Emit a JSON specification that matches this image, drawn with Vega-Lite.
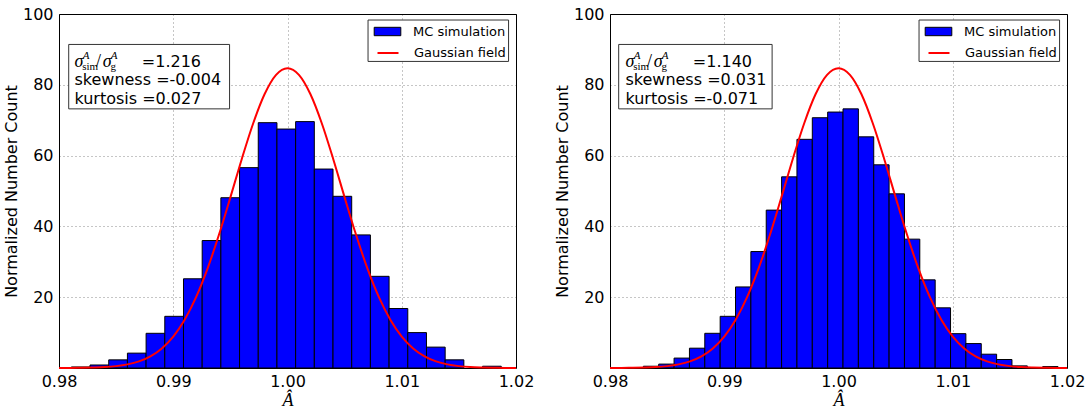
{
  "$schema": "https://vega.github.io/schema/vega-lite/v6.json",
  "padding": {"left": 2, "top": 5, "right": 0, "bottom": 0},
  "background": "white",
  "spacing": 94,
  "bounds": "flush",
  "resolve": {"scale": {"color": "independent", "fill": "independent", "stroke": "independent"}, "legend": {"color": "independent", "fill": "independent", "stroke": "independent"}},
  "config": {
    "font": "DejaVu Sans",
    "view": {"stroke": "black", "strokeWidth": 1},
    "axis": {
      "labelFont": "DejaVu Sans", "labelFontSize": 16, "labelColor": "black",
      "titleFont": "DejaVu Sans", "titleFontSize": 16, "titleFontWeight": "normal", "titleColor": "black",
      "ticks": false, "domain": false, "grid": true,
      "gridColor": "#000000", "gridOpacity": 0.45, "gridDash": [1, 3], "gridWidth": 1
    },
    "legend": {
      "layout": {"top-right": {"direction": "vertical", "margin": 0}}
    }
  },
  "datasets": {
    "bars": [
      {"panel": "L", "x": 0.98108, "xe": 0.982716, "y": 0.3, "series": "MC simulation"},
      {"panel": "L", "x": 0.982716, "xe": 0.984352, "y": 0.85, "series": "MC simulation"},
      {"panel": "L", "x": 0.984352, "xe": 0.985988, "y": 2.3, "series": "MC simulation"},
      {"panel": "L", "x": 0.985988, "xe": 0.987624, "y": 4.2, "series": "MC simulation"},
      {"panel": "L", "x": 0.987624, "xe": 0.98926, "y": 9.8, "series": "MC simulation"},
      {"panel": "L", "x": 0.98926, "xe": 0.990896, "y": 14.6, "series": "MC simulation"},
      {"panel": "L", "x": 0.990896, "xe": 0.992532, "y": 25.2, "series": "MC simulation"},
      {"panel": "L", "x": 0.992532, "xe": 0.994168, "y": 36.0, "series": "MC simulation"},
      {"panel": "L", "x": 0.994168, "xe": 0.995804, "y": 48.1, "series": "MC simulation"},
      {"panel": "L", "x": 0.995804, "xe": 0.99744, "y": 56.6, "series": "MC simulation"},
      {"panel": "L", "x": 0.99744, "xe": 0.999076, "y": 69.3, "series": "MC simulation"},
      {"panel": "L", "x": 0.999076, "xe": 1.000712, "y": 67.5, "series": "MC simulation"},
      {"panel": "L", "x": 1.000712, "xe": 1.002348, "y": 69.6, "series": "MC simulation"},
      {"panel": "L", "x": 1.002348, "xe": 1.003984, "y": 56.2, "series": "MC simulation"},
      {"panel": "L", "x": 1.003984, "xe": 1.00562, "y": 48.5, "series": "MC simulation"},
      {"panel": "L", "x": 1.00562, "xe": 1.007256, "y": 37.6, "series": "MC simulation"},
      {"panel": "L", "x": 1.007256, "xe": 1.008892, "y": 25.9, "series": "MC simulation"},
      {"panel": "L", "x": 1.008892, "xe": 1.010528, "y": 16.8, "series": "MC simulation"},
      {"panel": "L", "x": 1.010528, "xe": 1.012164, "y": 10.0, "series": "MC simulation"},
      {"panel": "L", "x": 1.012164, "xe": 1.0138, "y": 5.9, "series": "MC simulation"},
      {"panel": "L", "x": 1.0138, "xe": 1.015436, "y": 2.3, "series": "MC simulation"},
      {"panel": "L", "x": 1.017072, "xe": 1.018708, "y": 0.5, "series": "MC simulation"},
      {"panel": "R", "x": 0.98292, "xe": 0.984264, "y": 0.5, "series": "MC simulation"},
      {"panel": "R", "x": 0.984264, "xe": 0.985608, "y": 1.1, "series": "MC simulation"},
      {"panel": "R", "x": 0.985608, "xe": 0.986953, "y": 2.8, "series": "MC simulation"},
      {"panel": "R", "x": 0.986953, "xe": 0.988297, "y": 5.6, "series": "MC simulation"},
      {"panel": "R", "x": 0.988297, "xe": 0.989642, "y": 9.8, "series": "MC simulation"},
      {"panel": "R", "x": 0.989642, "xe": 0.990986, "y": 14.6, "series": "MC simulation"},
      {"panel": "R", "x": 0.990986, "xe": 0.99233, "y": 22.9, "series": "MC simulation"},
      {"panel": "R", "x": 0.99233, "xe": 0.993674, "y": 32.9, "series": "MC simulation"},
      {"panel": "R", "x": 0.993674, "xe": 0.995019, "y": 44.6, "series": "MC simulation"},
      {"panel": "R", "x": 0.995019, "xe": 0.996363, "y": 54.0, "series": "MC simulation"},
      {"panel": "R", "x": 0.996363, "xe": 0.997707, "y": 64.6, "series": "MC simulation"},
      {"panel": "R", "x": 0.997707, "xe": 0.999052, "y": 70.7, "series": "MC simulation"},
      {"panel": "R", "x": 0.999052, "xe": 1.000396, "y": 72.3, "series": "MC simulation"},
      {"panel": "R", "x": 1.000396, "xe": 1.00174, "y": 73.2, "series": "MC simulation"},
      {"panel": "R", "x": 1.00174, "xe": 1.003085, "y": 65.3, "series": "MC simulation"},
      {"panel": "R", "x": 1.003085, "xe": 1.004429, "y": 57.4, "series": "MC simulation"},
      {"panel": "R", "x": 1.004429, "xe": 1.005773, "y": 49.2, "series": "MC simulation"},
      {"panel": "R", "x": 1.005773, "xe": 1.007117, "y": 36.4, "series": "MC simulation"},
      {"panel": "R", "x": 1.007117, "xe": 1.008462, "y": 24.9, "series": "MC simulation"},
      {"panel": "R", "x": 1.008462, "xe": 1.009806, "y": 17.0, "series": "MC simulation"},
      {"panel": "R", "x": 1.009806, "xe": 1.01115, "y": 9.7, "series": "MC simulation"},
      {"panel": "R", "x": 1.01115, "xe": 1.012495, "y": 6.9, "series": "MC simulation"},
      {"panel": "R", "x": 1.012495, "xe": 1.013839, "y": 3.9, "series": "MC simulation"},
      {"panel": "R", "x": 1.013839, "xe": 1.015183, "y": 2.4, "series": "MC simulation"},
      {"panel": "R", "x": 1.015183, "xe": 1.016528, "y": 0.6, "series": "MC simulation"},
      {"panel": "R", "x": 1.017872, "xe": 1.019216, "y": 0.4, "series": "MC simulation"}
    ],
    "gauss": [
      {"x": 0.980, "y": 0.01, "series": "Gaussian field"},
      {"x": 0.981, "y": 0.02, "series": "Gaussian field"},
      {"x": 0.982, "y": 0.06, "series": "Gaussian field"},
      {"x": 0.983, "y": 0.13, "series": "Gaussian field"},
      {"x": 0.984, "y": 0.26, "series": "Gaussian field"},
      {"x": 0.985, "y": 0.53, "series": "Gaussian field"},
      {"x": 0.986, "y": 1.02, "series": "Gaussian field"},
      {"x": 0.987, "y": 1.88, "series": "Gaussian field"},
      {"x": 0.988, "y": 3.30, "series": "Gaussian field"},
      {"x": 0.989, "y": 5.54, "series": "Gaussian field"},
      {"x": 0.990, "y": 8.89, "series": "Gaussian field"},
      {"x": 0.991, "y": 13.65, "series": "Gaussian field"},
      {"x": 0.992, "y": 20.02, "series": "Gaussian field"},
      {"x": 0.993, "y": 28.07, "series": "Gaussian field"},
      {"x": 0.994, "y": 37.63, "series": "Gaussian field"},
      {"x": 0.995, "y": 48.21, "series": "Gaussian field"},
      {"x": 0.996, "y": 59.06, "series": "Gaussian field"},
      {"x": 0.997, "y": 69.15, "series": "Gaussian field"},
      {"x": 0.998, "y": 77.40, "series": "Gaussian field"},
      {"x": 0.999, "y": 82.81, "series": "Gaussian field"},
      {"x": 1.000, "y": 84.70, "series": "Gaussian field"},
      {"x": 1.001, "y": 82.81, "series": "Gaussian field"},
      {"x": 1.002, "y": 77.40, "series": "Gaussian field"},
      {"x": 1.003, "y": 69.15, "series": "Gaussian field"},
      {"x": 1.004, "y": 59.06, "series": "Gaussian field"},
      {"x": 1.005, "y": 48.21, "series": "Gaussian field"},
      {"x": 1.006, "y": 37.63, "series": "Gaussian field"},
      {"x": 1.007, "y": 28.07, "series": "Gaussian field"},
      {"x": 1.008, "y": 20.02, "series": "Gaussian field"},
      {"x": 1.009, "y": 13.65, "series": "Gaussian field"},
      {"x": 1.010, "y": 8.89, "series": "Gaussian field"},
      {"x": 1.011, "y": 5.54, "series": "Gaussian field"},
      {"x": 1.012, "y": 3.30, "series": "Gaussian field"},
      {"x": 1.013, "y": 1.88, "series": "Gaussian field"},
      {"x": 1.014, "y": 1.02, "series": "Gaussian field"},
      {"x": 1.015, "y": 0.53, "series": "Gaussian field"},
      {"x": 1.016, "y": 0.26, "series": "Gaussian field"},
      {"x": 1.017, "y": 0.13, "series": "Gaussian field"},
      {"x": 1.018, "y": 0.06, "series": "Gaussian field"},
      {"x": 1.019, "y": 0.02, "series": "Gaussian field"},
      {"x": 1.020, "y": 0.01, "series": "Gaussian field"}
    ],
    "boxes": [
      {"panel": "L", "x": 0.98085, "xe": 0.99493, "y": 73.2, "ye": 91.4},
      {"panel": "R", "x": 0.98076, "xe": 0.99419, "y": 73.2, "ye": 91.4},
      {"panel": "L", "x": 1.00705, "xe": 1.01935, "y": 86.6, "ye": 98.3},
      {"panel": "R", "x": 1.00705, "xe": 1.01935, "y": 86.6, "ye": 98.3}
    ],
    "notes": [
      {"panel": "L", "kind": "sig", "text": "σ", "x": 0.98135, "y": 85.1},
      {"panel": "L", "kind": "sup", "text": "A", "x": 0.98207, "y": 85.1},
      {"panel": "L", "kind": "sub", "text": "sim", "x": 0.98203, "y": 85.1},
      {"panel": "L", "kind": "slash", "text": "/", "x": 0.98324, "y": 85.1},
      {"panel": "L", "kind": "sig", "text": "σ", "x": 0.98382, "y": 85.1},
      {"panel": "L", "kind": "sup", "text": "A", "x": 0.98454, "y": 85.1},
      {"panel": "L", "kind": "sub", "text": "g", "x": 0.98450, "y": 85.1},
      {"panel": "L", "kind": "plain", "text": "=1.216", "x": 0.98725, "y": 85.1},
      {"panel": "L", "kind": "plain", "text": "skewness =-0.004", "x": 0.98135, "y": 80.0},
      {"panel": "L", "kind": "plain", "text": "kurtosis =0.027", "x": 0.98135, "y": 74.7},
      {"panel": "R", "kind": "sig", "text": "σ", "x": 0.98135, "y": 85.1},
      {"panel": "R", "kind": "sup", "text": "A", "x": 0.98207, "y": 85.1},
      {"panel": "R", "kind": "sub", "text": "sim", "x": 0.98203, "y": 85.1},
      {"panel": "R", "kind": "slash", "text": "/", "x": 0.98324, "y": 85.1},
      {"panel": "R", "kind": "sig", "text": "σ", "x": 0.98382, "y": 85.1},
      {"panel": "R", "kind": "sup", "text": "A", "x": 0.98454, "y": 85.1},
      {"panel": "R", "kind": "sub", "text": "g", "x": 0.98450, "y": 85.1},
      {"panel": "R", "kind": "plain", "text": "=1.140", "x": 0.98725, "y": 85.1},
      {"panel": "R", "kind": "plain", "text": "skewness =0.031", "x": 0.98135, "y": 80.0},
      {"panel": "R", "kind": "plain", "text": "kurtosis =-0.071", "x": 0.98135, "y": 74.7}
    ]
  },
  "hconcat": [
    {
      "width": 457, "height": 354,
      "encoding": {
        "x": {"field": "x", "type": "quantitative", "scale": {"domain": [0.98, 1.02], "nice": false, "zero": false, "padding": 0},
              "axis": {"values": [0.98, 0.99, 1.0, 1.01, 1.02], "format": ".2f", "labelFlush": false, "labelPadding": 5,
                       "title": "Â", "titleFont": "Liberation Serif", "titleFontStyle": "italic", "titleFontSize": 18, "titlePadding": 2}},
        "y": {"field": "y", "type": "quantitative", "scale": {"domain": [0, 100], "nice": false, "zero": true, "padding": 0},
              "axis": {"values": [20, 40, 60, 80, 100], "labelPadding": 6, "title": "Normalized Number Count", "titlePadding": 3}}
      },
      "layer": [
        {
          "data": {"name": "bars"}, "transform": [{"filter": "datum.panel === 'L'"}],
          "mark": {"type": "bar", "stroke": "black", "strokeWidth": 1, "fillOpacity": 1, "orient": "vertical"},
          "encoding": {
            "x2": {"field": "xe"},
            "y2": {"datum": 0},
            "fill": {"field": "series", "type": "nominal",
              "scale": {"domain": ["MC simulation"], "range": ["#0000ff"]},
              "legend": {"title": null, "orient": "top-right", "offset": 7, "padding": 3, "rowPadding": 0,
                "labelFont": "DejaVu Sans", "labelFontSize": 13, "labelColor": "black",
                "symbolSize": 196, "symbolOffset": 0, "labelOffset": 18,
                "symbolType": "M-1.9,-0.6H1.9V0.6H-1.9Z", "symbolStrokeColor": "black", "symbolStrokeWidth": 1, "symbolOpacity": 1}}
          }
        },
        {
          "data": {"name": "gauss"},
          "mark": {"type": "line", "strokeWidth": 2, "interpolate": "monotone"},
          "encoding": {"color": {"field": "series", "type": "nominal",
            "scale": {"domain": ["Gaussian field"], "range": ["#ff0000"]},
            "legend": {"title": null, "orient": "top-right", "offset": 7, "padding": 3, "rowPadding": 0,
              "labelFont": "DejaVu Sans", "labelFontSize": 13, "labelColor": "black",
              "symbolSize": 196, "symbolOffset": 0, "labelOffset": 18,
              "symbolType": "M-1.5,0H1.5", "symbolStrokeWidth": 2, "symbolOpacity": 1}}}
        },
        {
          "data": {"name": "boxes"}, "transform": [{"filter": "datum.panel === 'L'"}],
          "mark": {"type": "rect", "fill": "white", "stroke": "#333333", "strokeWidth": 1},
          "encoding": {"x2": {"field": "xe"}, "y2": {"field": "ye"}}
        },
        {
          "data": {"name": "notes"}, "transform": [{"filter": "datum.panel === 'L' && datum.kind === 'plain'"}],
          "mark": {"type": "text", "align": "left", "baseline": "alphabetic", "font": "DejaVu Sans", "fontSize": 16, "color": "black"},
          "encoding": {"text": {"field": "text"}}
        },
        {
          "data": {"name": "notes"}, "transform": [{"filter": "datum.panel === 'L' && datum.kind === 'sig'"}],
          "mark": {"type": "text", "align": "left", "baseline": "alphabetic", "font": "Liberation Serif", "fontStyle": "italic", "fontSize": 18, "color": "black"},
          "encoding": {"text": {"field": "text"}}
        },
        {
          "data": {"name": "notes"}, "transform": [{"filter": "datum.panel === 'L' && datum.kind === 'slash'"}],
          "mark": {"type": "text", "align": "left", "baseline": "alphabetic", "font": "Liberation Serif", "fontSize": 18, "color": "black"},
          "encoding": {"text": {"field": "text"}}
        },
        {
          "data": {"name": "notes"}, "transform": [{"filter": "datum.panel === 'L' && datum.kind === 'sup'"}],
          "mark": {"type": "text", "align": "left", "baseline": "alphabetic", "font": "Liberation Serif", "fontStyle": "italic", "fontSize": 11, "dy": -8, "color": "black"},
          "encoding": {"text": {"field": "text"}}
        },
        {
          "data": {"name": "notes"}, "transform": [{"filter": "datum.panel === 'L' && datum.kind === 'sub'"}],
          "mark": {"type": "text", "align": "left", "baseline": "alphabetic", "font": "Liberation Serif", "fontSize": 11, "dy": 3, "color": "black"},
          "encoding": {"text": {"field": "text"}}
        }
      ]
    },
    {
      "width": 457, "height": 354,
      "encoding": {
        "x": {"field": "x", "type": "quantitative", "scale": {"domain": [0.98, 1.02], "nice": false, "zero": false, "padding": 0},
              "axis": {"values": [0.98, 0.99, 1.0, 1.01, 1.02], "format": ".2f", "labelFlush": false, "labelPadding": 5,
                       "title": "Â", "titleFont": "Liberation Serif", "titleFontStyle": "italic", "titleFontSize": 18, "titlePadding": 2}},
        "y": {"field": "y", "type": "quantitative", "scale": {"domain": [0, 100], "nice": false, "zero": true, "padding": 0},
              "axis": {"values": [20, 40, 60, 80, 100], "labelPadding": 6, "title": "Normalized Number Count", "titlePadding": 3}}
      },
      "layer": [
        {
          "data": {"name": "bars"}, "transform": [{"filter": "datum.panel === 'R'"}],
          "mark": {"type": "bar", "stroke": "black", "strokeWidth": 1, "fillOpacity": 1, "orient": "vertical"},
          "encoding": {
            "x2": {"field": "xe"},
            "y2": {"datum": 0},
            "fill": {"field": "series", "type": "nominal",
              "scale": {"domain": ["MC simulation"], "range": ["#0000ff"]},
              "legend": {"title": null, "orient": "top-right", "offset": 7, "padding": 3, "rowPadding": 0,
                "labelFont": "DejaVu Sans", "labelFontSize": 13, "labelColor": "black",
                "symbolSize": 196, "symbolOffset": 0, "labelOffset": 18,
                "symbolType": "M-1.9,-0.6H1.9V0.6H-1.9Z", "symbolStrokeColor": "black", "symbolStrokeWidth": 1, "symbolOpacity": 1}}
          }
        },
        {
          "data": {"name": "gauss"},
          "mark": {"type": "line", "strokeWidth": 2, "interpolate": "monotone"},
          "encoding": {"color": {"field": "series", "type": "nominal",
            "scale": {"domain": ["Gaussian field"], "range": ["#ff0000"]},
            "legend": {"title": null, "orient": "top-right", "offset": 7, "padding": 3, "rowPadding": 0,
              "labelFont": "DejaVu Sans", "labelFontSize": 13, "labelColor": "black",
              "symbolSize": 196, "symbolOffset": 0, "labelOffset": 18,
              "symbolType": "M-1.5,0H1.5", "symbolStrokeWidth": 2, "symbolOpacity": 1}}}
        },
        {
          "data": {"name": "boxes"}, "transform": [{"filter": "datum.panel === 'R'"}],
          "mark": {"type": "rect", "fill": "white", "stroke": "#333333", "strokeWidth": 1},
          "encoding": {"x2": {"field": "xe"}, "y2": {"field": "ye"}}
        },
        {
          "data": {"name": "notes"}, "transform": [{"filter": "datum.panel === 'R' && datum.kind === 'plain'"}],
          "mark": {"type": "text", "align": "left", "baseline": "alphabetic", "font": "DejaVu Sans", "fontSize": 16, "color": "black"},
          "encoding": {"text": {"field": "text"}}
        },
        {
          "data": {"name": "notes"}, "transform": [{"filter": "datum.panel === 'R' && datum.kind === 'sig'"}],
          "mark": {"type": "text", "align": "left", "baseline": "alphabetic", "font": "Liberation Serif", "fontStyle": "italic", "fontSize": 18, "color": "black"},
          "encoding": {"text": {"field": "text"}}
        },
        {
          "data": {"name": "notes"}, "transform": [{"filter": "datum.panel === 'R' && datum.kind === 'slash'"}],
          "mark": {"type": "text", "align": "left", "baseline": "alphabetic", "font": "Liberation Serif", "fontSize": 18, "color": "black"},
          "encoding": {"text": {"field": "text"}}
        },
        {
          "data": {"name": "notes"}, "transform": [{"filter": "datum.panel === 'R' && datum.kind === 'sup'"}],
          "mark": {"type": "text", "align": "left", "baseline": "alphabetic", "font": "Liberation Serif", "fontStyle": "italic", "fontSize": 11, "dy": -8, "color": "black"},
          "encoding": {"text": {"field": "text"}}
        },
        {
          "data": {"name": "notes"}, "transform": [{"filter": "datum.panel === 'R' && datum.kind === 'sub'"}],
          "mark": {"type": "text", "align": "left", "baseline": "alphabetic", "font": "Liberation Serif", "fontSize": 11, "dy": 3, "color": "black"},
          "encoding": {"text": {"field": "text"}}
        }
      ]
    }
  ]
}
